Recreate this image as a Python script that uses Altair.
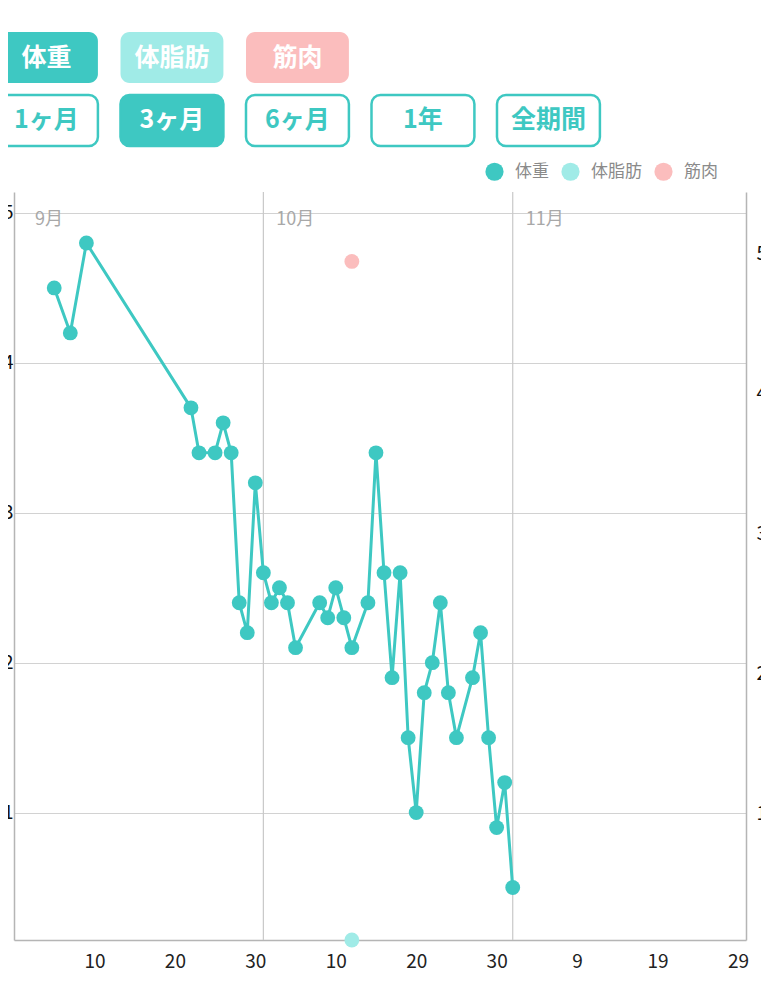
import altair as alt
import pandas as pd

# ---------------- data ----------------
weight_dates = [
    "2023-09-05", "2023-09-07", "2023-09-09", "2023-09-22", "2023-09-23",
    "2023-09-25", "2023-09-26", "2023-09-27", "2023-09-28", "2023-09-29",
    "2023-09-30", "2023-10-01", "2023-10-02", "2023-10-03", "2023-10-04",
    "2023-10-05", "2023-10-08", "2023-10-09", "2023-10-10", "2023-10-11",
    "2023-10-12", "2023-10-14", "2023-10-15", "2023-10-16", "2023-10-17",
    "2023-10-18", "2023-10-19", "2023-10-20", "2023-10-21", "2023-10-22",
    "2023-10-23", "2023-10-24", "2023-10-25", "2023-10-27", "2023-10-28",
    "2023-10-29", "2023-10-30", "2023-10-31", "2023-11-01",
]
weight_values = [
    54.5, 54.2, 54.8, 53.7, 53.4,
    53.4, 53.6, 53.4, 52.4, 52.2,
    53.2, 52.6, 52.4, 52.5, 52.4,
    52.1, 52.4, 52.3, 52.5, 52.3,
    52.1, 52.4, 53.4, 52.6, 51.9,
    52.6, 51.5, 51.0, 51.8, 52.0,
    52.4, 51.8, 51.5, 51.9, 52.2,
    51.5, 50.9, 51.2, 50.5,
]
comp_dates = ["2023-10-12", "2023-10-12"]
comp_series = ["体脂肪", "筋肉"]
comp_values = [0.93, 49.4]

series_names = ["体重", "体脂肪", "筋肉"]
series_colors = ["#3EC8C2", "#A0EBE7", "#FBBDBD"]

month_dates = ["2023-09-01", "2023-10-01", "2023-11-01"]
month_labels = ["9月", "10月", "11月"]
month_grid_dates = ["2023-10-01", "2023-11-01"]

x_tick_days = [(9, 10), (9, 20), (9, 30), (10, 10), (10, 20), (10, 30),
               (11, 9), (11, 19), (11, 29)]
left_ticks = [51, 52, 53, 54, 55]
right_ticks = [10, 20, 30, 40, 50]

btn_labels = ["体重", "体脂肪", "筋肉", "1ヶ月", "3ヶ月", "6ヶ月", "1年", "全期間"]
btn_rows = [0, 0, 0, 1, 1, 1, 1, 1]
btn_cols = [0, 1, 2, 0, 1, 2, 3, 4]
btn_kinds = ["体重", "体脂肪", "筋肉", "off", "on", "off", "off", "off"]

TEAL = "#3EC8C2"
FONT = "Noto Sans CJK JP"

wdf = pd.DataFrame({"date": weight_dates, "weight": weight_values,
                    "series": ["体重"] * len(weight_dates)})
cdf = pd.DataFrame({"date": comp_dates, "value": comp_values, "series": comp_series})
mdf = pd.DataFrame({"date": month_dates, "label": month_labels})
gdf = pd.DataFrame({"date": month_grid_dates})
bdf = pd.DataFrame({"label": btn_labels, "row": btn_rows, "col": btn_cols, "kind": btn_kinds})

# ---------------- scales ----------------
x_scale = alt.Scale(
    type="utc",
    domain=[alt.DateTime(year=2023, month=8, date=31, utc=True),
            alt.DateTime(year=2023, month=11, date=30, utc=True)],
)
x_axis = alt.Axis(
    values=[alt.DateTime(year=2023, month=m, date=d, utc=True) for m, d in x_tick_days],
    labelExpr="utcFormat(datum.value, '%-d')", grid=False, ticks=False,
    labelFontSize=19, labelColor="#222222", labelPadding=12,
    domainColor="#B5B5B5", domainWidth=1.5, title=None,
)
X = alt.X("date:T", scale=x_scale, axis=x_axis)

color_scale = alt.Scale(domain=series_names, range=series_colors)
legend = alt.Legend(
    orient="none", legendX=471, legendY=-30, direction="horizontal", title=None,
    symbolType="circle", symbolSize=330, symbolStrokeWidth=0,
    labelFontSize=17, labelColor="#8A8A8A", labelFont=FONT,
    columnPadding=12, labelOffset=11, padding=0,
)

left_axis = alt.Axis(
    orient="left", values=left_ticks, grid=True, gridColor="#D2D2D2", gridWidth=1.2,
    ticks=False, labelFontSize=19, labelColor="#111111", labelPadding=1,
    domainColor="#B5B5B5", domainWidth=1.5, title=None,
)
right_axis = alt.Axis(
    orient="right", values=right_ticks, grid=False, ticks=False,
    labelFontSize=19, labelColor="#111111", labelPadding=10,
    domainColor="#B5B5B5", domainWidth=1.5, title=None,
)

# ---------------- main chart ----------------
rules = alt.Chart(gdf).mark_rule(color="#C8C8C8", strokeWidth=1.2).encode(x=X)
month_text = alt.Chart(mdf).mark_text(
    align="left", baseline="middle", dx=13, fontSize=18, color="#A8A8A8", font=FONT
).encode(x=X, y=alt.value(28), text="label:N")

wy = alt.Y("weight:Q", scale=alt.Scale(domain=[50.15, 55.14], zero=False), axis=left_axis)
wline = alt.Chart(wdf).mark_line(strokeWidth=3, color=TEAL).encode(x=X, y=wy)
wpts = alt.Chart(wdf).mark_circle(size=220, opacity=1).encode(
    x=X, y=wy, color=alt.Color("series:N", scale=color_scale, legend=legend)
)
weight_layer = alt.layer(rules, month_text, wline, wpts)

cpts = alt.Chart(cdf).mark_circle(size=220, opacity=1).encode(
    x=X,
    y=alt.Y("value:Q", scale=alt.Scale(domain=[0.93, 54.36], zero=False), axis=right_axis),
    color=alt.Color("series:N", scale=color_scale, legend=legend),
)

main = alt.layer(weight_layer, cpts).resolve_scale(y="independent").properties(
    width=732, height=748
)

# ---------------- buttons ----------------
# one column slot = 125.5 px; button body = 0.82 of a slot
bx_scale = alt.Scale(domain=[0.1514, 0.1514 + 617 / 125.5], nice=False, zero=False)
by = alt.Y("row:O", scale=alt.Scale(paddingInner=0.19, paddingOuter=0), axis=None)
btn_base = alt.Chart(bdf).transform_calculate(
    x0="datum.col", x1="datum.col + 0.82", xm="datum.col + 0.41"
)
btn_rect = btn_base.mark_rect(cornerRadius=9, strokeWidth=2.5).encode(
    x=alt.X("x0:Q", scale=bx_scale, axis=None), x2="x1:Q", y=by,
    fill=alt.Fill("kind:N", scale=alt.Scale(
        domain=["体重", "体脂肪", "筋肉", "on", "off"],
        range=[TEAL, "#A0EBE7", "#FBBDBD", TEAL, "#FFFFFF"]), legend=None),
    stroke=alt.condition("datum.row === 1", alt.value(TEAL), alt.value("transparent")),
)
btn_text = btn_base.mark_text(
    fontSize=25, fontWeight="bold", font=FONT, baseline="middle", align="center"
).encode(
    x=alt.X("xm:Q", scale=bx_scale, axis=None), y=by, text="label:N",
    color=alt.condition("datum.kind === 'off'", alt.value(TEAL), alt.value("#FFFFFF")),
)
buttons = alt.layer(btn_rect, btn_text).properties(width=617, height=114)

chart = alt.vconcat(buttons, main, spacing=14).resolve_scale(
    color="independent", fill="independent"
).resolve_legend(color="independent").properties(
    padding={"left": -17, "top": 22, "right": -17, "bottom": 0}
).configure(font=FONT).configure_view(strokeWidth=0)

chart.save("out.html", embed_options={"renderer": "svg", "actions": False})
